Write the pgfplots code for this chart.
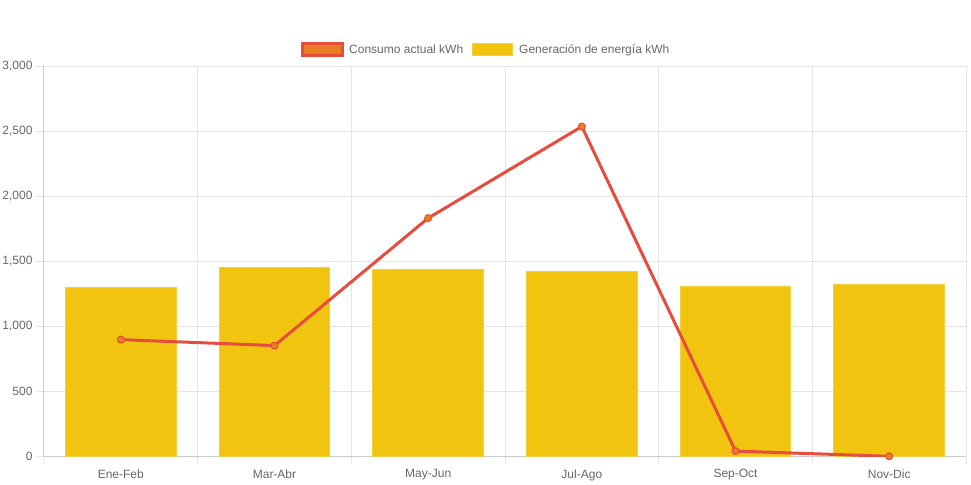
\documentclass[border=0pt]{standalone}
\usepackage{pgfplots}
\pgfplotsset{compat=1.18}
\usepackage{fontspec}
\setmainfont{Liberation Sans}
\definecolor{barY}{HTML}{F1C40F}
\definecolor{barB}{HTML}{F4D03F}
\definecolor{lineR}{HTML}{E74C3C}
\definecolor{dotO}{HTML}{E67E22}
\definecolor{txt}{HTML}{666666}
\definecolor{gridc}{HTML}{E5E5E5}
\definecolor{axc}{HTML}{CCCCCC}
\begin{document}
\begin{tikzpicture}[x=1bp,y=1bp]
\path[use as bounding box] (-44,-28.7) rectangle (927,456.3);
\begin{axis}[
  at={(0,0)}, anchor=south west,
  scale only axis, width=922bp, height=389.8bp,
  xmin=-0.5, xmax=5.5, ymin=0, ymax=3000,
  axis x line*=bottom, axis y line*=left,
  axis line style={draw=axc, line width=1bp, -},
  xtick={-0.5,0.5,...,5.5}, xticklabels={},
  extra x ticks={0,1,2,3,4,5},
  extra x tick labels={Ene-Feb,Mar-Abr,May-Jun,Jul-Ago,Sep-Oct,Nov-Dic},
  extra x tick style={grid=none, major tick length=0pt},
  xticklabel style={yshift=-9.5bp},
  ytick={0,500,...,3000},
  grid=major, grid style={draw=gridc, line width=1bp},
  tick align=outside, major tick length=8bp,
  tick style={draw=gridc, line width=1bp},
  every tick label/.append style={font=\fontsize{12bp}{14bp}\selectfont, text=txt},
  /pgf/number format/.cd, 1000 sep={,}, assume math mode=true,
]
\addplot[ybar, bar width=0.72, fill=barY, draw=barB, line width=0.8bp] coordinates {
  (0,1300) (1,1455) (2,1436) (3,1421) (4,1304) (5,1323)
};
\addplot[sharp plot, color=lineR, line width=3bp, mark=*, mark size=3.5bp,
  mark options={fill=dotO, draw=lineR, line width=1bp}] coordinates {
  (0,898) (1,852) (2,1833) (3,2538) (4,40) (5,0)
};
\end{axis}
\draw[fill=dotO, draw=lineR, line width=3bp] (258.5,400.8) rectangle (298.5,412.8);
\node[anchor=base west, inner sep=0pt, text=txt, font=\fontsize{12bp}{14bp}\selectfont] at (305,402.5) {Consumo actual kWh};
\draw[fill=barY, draw=barB, line width=1bp] (428.5,400.8) rectangle (468.5,412.8);
\node[anchor=base west, inner sep=0pt, text=txt, font=\fontsize{12bp}{14bp}\selectfont] at (475,402.5) {Generación de energía kWh};
\end{tikzpicture}
\end{document}
